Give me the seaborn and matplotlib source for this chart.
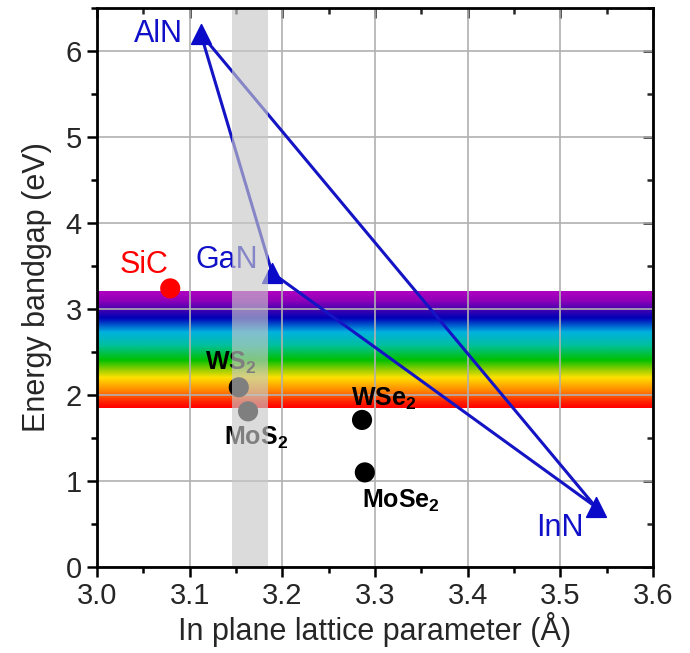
import numpy as np
import pandas as pd
import matplotlib
matplotlib.use("Agg")
import matplotlib.pyplot as plt
from matplotlib.colors import LinearSegmentedColormap
from matplotlib.ticker import MultipleLocator, FormatStrFormatter
import seaborn as sns

# nitrides (triangle corners)
nitrides = ['AlN', 'GaN', 'InN']
nitride_a = [3.112, 3.189, 3.538]
nitride_eg = [6.2, 3.42, 0.7]

# other semiconductors
sic_a, sic_eg = 3.079, 3.24
tmd_names = ['WS2', 'MoS2', 'WSe2', 'MoSe2']
tmd_a = [3.153, 3.163, 3.286, 3.289]
tmd_eg = [2.09, 1.81, 1.71, 1.10]

# visible spectrum band and lattice-match band
vis_lo, vis_hi = 1.85, 3.2
match_lo, match_hi = 3.146, 3.184

sns.set_style("white")
plt.rcParams['font.family'] = ['Liberation Sans', 'DejaVu Sans']
plt.rcParams['mathtext.fontset'] = 'custom'
plt.rcParams['mathtext.rm'] = 'Liberation Sans'
plt.rcParams['mathtext.bf'] = 'Liberation Sans:bold'

fig = plt.figure(figsize=(6.9, 6.53), dpi=100)
ax = fig.add_axes([0.1406, 0.1317, 0.8058, 0.856])

# rainbow band (red at bottom -> violet at top)
rainbow = LinearSegmentedColormap.from_list('vis', [
    (0.00, '#ff0000'), (0.05, '#ff2000'), (0.14, '#ff8000'), (0.20, '#ffb000'),
    (0.26, '#ffe000'), (0.32, '#a0d000'), (0.41, '#00c000'), (0.54, '#00c0a0'),
    (0.65, '#00b0e0'), (0.77, '#0000b8'), (0.84, '#4000b0'), (0.92, '#9000b8'),
    (1.00, '#b000c0')])
grad = np.linspace(0, 1, 256).reshape(-1, 1)
ax.imshow(grad, cmap=rainbow, origin='lower', aspect='auto',
          extent=[3.0, 3.6, vis_lo, vis_hi], zorder=1)

# triangle
tri = pd.DataFrame({'a': nitride_a + [nitride_a[0]], 'eg': nitride_eg + [nitride_eg[0]]})
sns.lineplot(data=tri, x='a', y='eg', sort=False, estimator=None, color='#1414c4',
             lw=2.2, ax=ax, zorder=4)
sns.scatterplot(x=nitride_a, y=nitride_eg, marker='^', s=200, color='#0a0ac8',
                edgecolor='#0a0ac8', ax=ax, zorder=5)

sns.scatterplot(x=[sic_a], y=[sic_eg], s=210, color='#ff0000', edgecolor='none', ax=ax, zorder=5)
sns.scatterplot(x=tmd_a, y=tmd_eg, s=210, color='black', edgecolor='none', ax=ax, zorder=5)

# lattice-matched band on top (greys out what lies beneath)
ax.axvspan(match_lo, match_hi, color='#c8c8c8', alpha=0.64, lw=0, zorder=6)

blue = '#1010c8'
ax.text(3.093, 6.2, 'AlN', color=blue, fontsize=22, ha='right', va='center', zorder=7)
ax.text(3.174, 3.57, 'GaN', color=blue, fontsize=22, ha='right', va='center', zorder=5)
ax.text(3.525, 0.45, 'InN', color=blue, fontsize=22, ha='right', va='center', zorder=7)
ax.text(3.051, 3.51, 'SiC', color='#ff0000', fontsize=22, ha='center', va='center', zorder=7)

tfs = 18
ax.text(3.117, 2.29, r'$\mathbf{WS_2}$', fontsize=tfs, color='black', va='baseline', zorder=5)
ax.text(3.137, 1.42, r'$\mathbf{MoS_2}$', fontsize=tfs, color='black', va='baseline', zorder=5)
ax.text(3.274, 1.88, r'$\mathbf{WSe_2}$', fontsize=tfs, color='black', va='baseline', zorder=5)
ax.text(3.286, 0.69, r'$\mathbf{MoSe_2}$', fontsize=tfs, color='black', va='baseline', zorder=5)

ax.set_xlim(3.0, 3.6)
ax.set_ylim(0, 6.5)
ax.xaxis.set_major_locator(MultipleLocator(0.1))
ax.xaxis.set_minor_locator(MultipleLocator(0.05))
ax.yaxis.set_major_locator(MultipleLocator(1))
ax.yaxis.set_minor_locator(MultipleLocator(0.5))
ax.xaxis.set_major_formatter(FormatStrFormatter('%.1f'))
ax.grid(True, which='major', color='#b0b0b0', lw=1.2, zorder=2)
ax.set_axisbelow(False)
for sp in ax.spines.values():
    sp.set_color('black')
    sp.set_linewidth(2)
    sp.set_zorder(8)
ax.tick_params(which='both', bottom=True, left=True, top=False, right=False,
               labelsize=21, color='black', width=1.8, pad=4)
ax.tick_params(which='major', length=7)
ax.tick_params(which='minor', length=4)
ax.set_xlabel('In plane lattice parameter (Å)', fontsize=22, labelpad=1)
ax.set_ylabel('Energy bandgap (eV)', fontsize=22, labelpad=10)

# mirror ticks point inward on top and right
sec_x = ax.secondary_xaxis('top')
sec_x.xaxis.set_major_locator(MultipleLocator(0.1))
sec_x.xaxis.set_minor_locator(MultipleLocator(0.05))
sec_x.tick_params(which='both', direction='in', labeltop=False, width=1.8)
sec_x.tick_params(which='major', length=7)
sec_x.tick_params(which='minor', length=4)
sec_y = ax.secondary_yaxis('right')
sec_y.yaxis.set_major_locator(MultipleLocator(1))
sec_y.yaxis.set_minor_locator(MultipleLocator(0.5))
sec_y.tick_params(which='both', direction='in', labelright=False, width=1.8)
sec_y.tick_params(which='major', length=7)
sec_y.tick_params(which='minor', length=4)

fig.savefig('out.png', dpi=100)
